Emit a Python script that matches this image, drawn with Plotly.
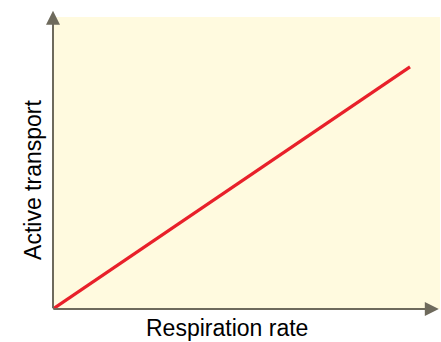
import plotly.graph_objects as go

# Conceptual relationship: active transport rises linearly with respiration rate
respiration_rate = [0, 10]
active_transport = [0, 10]

x_label = "Respiration rate"
y_label = "Active transport"

axis_color = "#6e6a5c"
line_color = "#e8202a"
bg_color = "#fffadf"

fig = go.Figure()
fig.add_trace(go.Scatter(
    x=respiration_rate, y=active_transport, mode="lines",
    line=dict(color=line_color, width=3.2), hoverinfo="skip",
))

fig.update_layout(
    width=441, height=342,
    margin=dict(l=53, r=1, t=17, b=33),
    paper_bgcolor="white", plot_bgcolor=bg_color,
    showlegend=False,
    xaxis=dict(range=[0, 10.84], visible=False, fixedrange=True),
    yaxis=dict(range=[0, 12.06], visible=False, fixedrange=True),
    font=dict(family="Liberation Sans, Arial, sans-serif", color="black"),
)

# axes drawn as arrows
fig.add_annotation(
    xref="paper", yref="paper", x=0, y=1.021, ax=0, ay=299,
    axref="pixel", ayref="pixel", text="", showarrow=True,
    arrowhead=2, arrowsize=1.4, arrowwidth=2, arrowcolor=axis_color,
)
fig.add_annotation(
    xref="paper", yref="paper", x=0.997, y=0, ax=-387, ay=0,
    text="", showarrow=True,
    arrowhead=2, arrowsize=1.4, arrowwidth=2, arrowcolor=axis_color,
)

# axis titles
fig.add_annotation(
    xref="paper", yref="paper", x=0.4496, y=0, yshift=-19, yanchor="middle",
    text=x_label, showarrow=False, font=dict(size=23),
)
fig.add_annotation(
    xref="paper", yref="paper", x=0, xshift=-20, y=0.442, xanchor="center",
    yanchor="middle", text=y_label, textangle=-90, showarrow=False,
    font=dict(size=23),
)

fig.write_html("out.html")
